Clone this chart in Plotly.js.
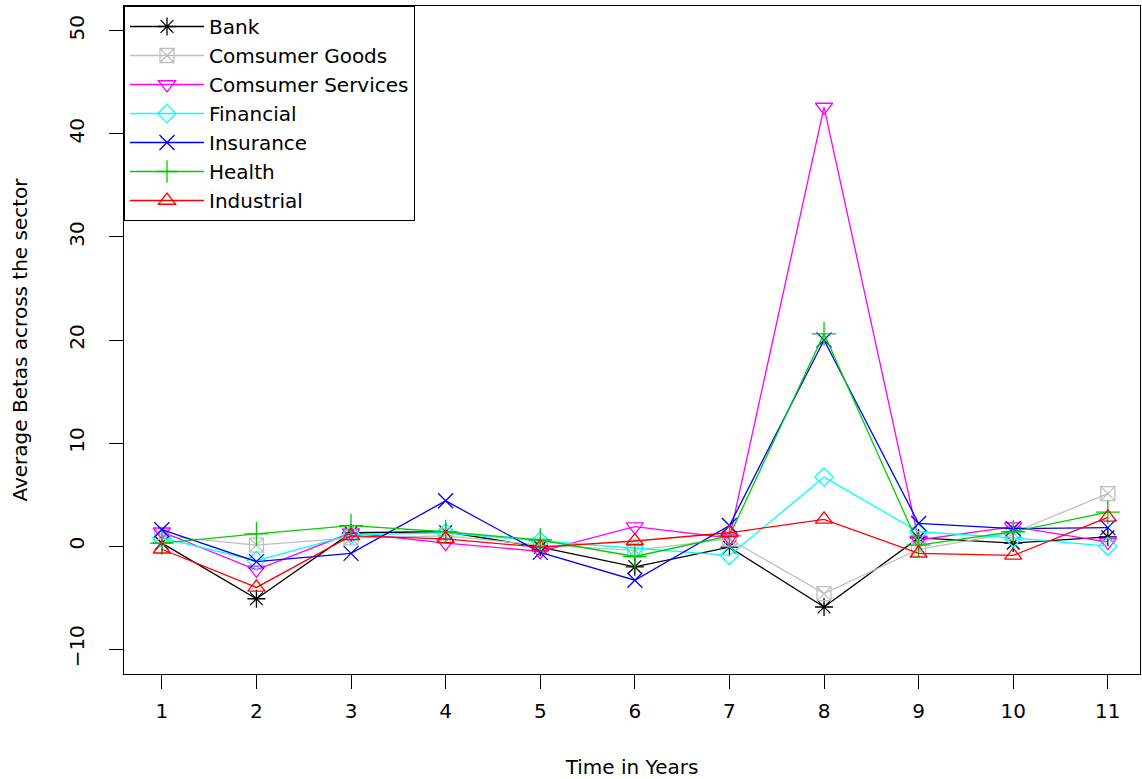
<!DOCTYPE html>
<html>
<head>
<meta charset="utf-8">
<script src="https://cdn.plot.ly/plotly-3.0.1.min.js"></script>
<style>html,body{margin:0;padding:0;background:#fff;}#chart{width:1142px;height:779px;}</style>
</head>
<body>
<div id="chart"></div>
<script>
const years = [1, 2, 3, 4, 5, 6, 7, 8, 9, 10, 11];
const seriesNames = ["Bank", "Comsumer Goods", "Comsumer Services", "Financial", "Insurance", "Health", "Industrial"];
const bank        = [0.3, -5.1, 1.3, 1.4, -0.1, -2.0, -0.1, -5.9, 0.8, 0.3, 0.9];
const goods       = [1.0, 0.1, 0.8, 1.0, 0.1, -0.4, 0.7, -4.6, -0.3, 1.3, 5.1];
const services    = [1.4, -2.3, 1.3, 0.3, -0.5, 1.9, 0.8, 42.6, 0.6, 1.9, 0.4];
const financial   = [0.8, -1.4, 1.1, 1.3, 0.5, -0.2, -0.9, 6.7, 1.4, 0.8, 0.0];
const insurance   = [1.6, -1.5, -0.7, 4.4, -0.6, -3.3, 2.0, 20.0, 2.2, 1.7, 1.8];
const health      = [0.3, 1.2, 2.0, 1.4, 0.6, -1.0, 1.0, 20.6, 0.1, 1.4, 3.3];
const industrial  = [-0.3, -4.0, 1.0, 0.7, -0.1, 0.5, 1.3, 2.6, -0.7, -0.9, 2.8];
const yTicks = [-10, 0, 10, 20, 30, 40, 50];
const xTicks = years;

const values = [bank, goods, services, financial, insurance, health, industrial];
const colors = ["#000000", "#bebebe", "#ff00ff", "#00ffff", "#0000ff", "#00cd00", "#ff0000"];
const symbols = ["asterisk-open", "square-x-open", "triangle-down-open", "diamond-open", "x-thin-open", "cross-thin-open", "triangle-up-open"];
const sizes = [15, 14, 15, 14, 15, 17, 15];

const traces = seriesNames.map((name, i) => ({
  x: years,
  y: values[i],
  name: name,
  type: "scatter",
  mode: "lines+markers",
  line: {color: colors[i], width: 1.3},
  marker: {symbol: symbols[i], size: sizes[i], color: colors[i], line: {color: colors[i], width: 1.3}}
}));

const font = "DejaVu Sans, Liberation Sans, Arial, sans-serif";
const layout = {
  width: 1142,
  height: 779,
  margin: {l: 124, r: 2, t: 6, b: 105},
  paper_bgcolor: "#fff",
  plot_bgcolor: "#fff",
  showlegend: true,
  font: {family: font, size: 20, color: "#000"},
  xaxis: {
    range: [0.6, 11.34],
    tickvals: xTicks,
    ticktext: xTicks.map(String),
    ticks: "outside",
    ticklen: 14,
    tickcolor: "#000",
    showgrid: false,
    zeroline: false,
    showline: true,
    mirror: true,
    linecolor: "#000",
    linewidth: 1,
    tickfont: {size: 20},
    ticklabelstandoff: 5,
    title: {text: "Time in Years", font: {size: 20}, standoff: 38}
  },
  yaxis: {
    range: [-12.4, 52.4],
    tickvals: yTicks,
    ticktext: yTicks.map(v => v < 0 ? "\u2212" + Math.abs(v) : String(v)),
    tickangle: -90,
    ticks: "outside",
    ticklen: 14,
    tickcolor: "#000",
    showgrid: false,
    zeroline: false,
    showline: true,
    mirror: true,
    linecolor: "#000",
    linewidth: 1,
    tickfont: {size: 20},
    ticklabelstandoff: 17,
    title: {text: "Average Betas across the sector", font: {size: 20}, standoff: 32}
  },
  legend: {
    x: 0, y: 1, xanchor: "left", yanchor: "top",
    bgcolor: "#fff",
    bordercolor: "#000",
    borderwidth: 1,
    font: {size: 20},
    itemwidth: 74,
    tracegroupgap: 0
  }
};

Plotly.newPlot("chart", traces, layout, {displayModeBar: false, staticPlot: true});
</script>
</body>
</html>
